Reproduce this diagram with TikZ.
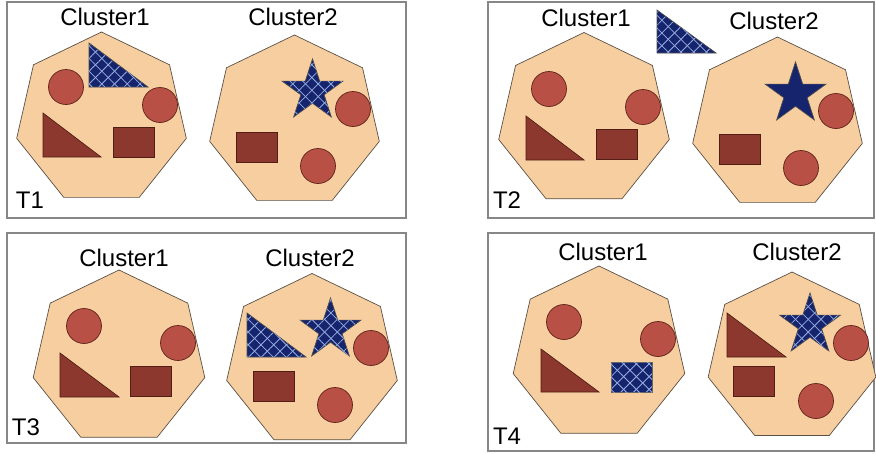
\documentclass[tikz,border=0pt]{standalone}
\usepackage{fontspec}
\setmainfont{Liberation Sans}
\usetikzlibrary{shapes.geometric,patterns.meta}
\definecolor{peach}{RGB}{246,206,160}
\definecolor{heptline}{RGB}{90,80,70}
\definecolor{redfill}{RGB}{184,80,70}
\definecolor{redline}{RGB}{95,35,25}
\definecolor{brownfill}{RGB}{140,56,46}
\definecolor{brownline}{RGB}{80,30,20}
\definecolor{navy}{RGB}{22,36,110}
\definecolor{hatchc}{RGB}{150,175,225}
\definecolor{framec}{RGB}{135,135,135}
\tikzset{
  frame/.style={draw=framec,line width=1.2pt},
  hept/.style={regular polygon,regular polygon sides=7,minimum size=#1,inner sep=0pt,draw=heptline,fill=peach,line width=0.7pt},
  title/.style={font=\fontsize{24}{28}\selectfont,inner sep=0pt},
  ball/.style={circle,minimum size=35pt,inner sep=0pt,draw=redline,fill=redfill,line width=0.7pt},
  brownshape/.style={draw=brownline,fill=brownfill,line width=0.7pt},
  box/.style={rectangle,inner sep=0pt,draw=brownline,fill=brownfill,line width=0.7pt,minimum width=41pt,minimum height=30pt},
  starshape/.style={star,star points=5,star point ratio=2.618,minimum size=64pt,inner sep=0pt,draw=black!70,line width=0.7pt},
  solidnavy/.style={fill=navy},
  hatched/.style={preaction={fill=navy},
    pattern={Lines[angle=45,distance=9pt,line width=0.8pt]},pattern color=hatchc,
    postaction={pattern={Lines[angle=-45,distance=9pt,line width=0.8pt]},pattern color=hatchc}},
}
\begin{document}
\begin{tikzpicture}[x=1pt,y=-1pt]
\useasboundingbox (0,0) rectangle (876,453);
% frames
\draw[frame] (7,2) rectangle (406,218);
\draw[frame] (488,2) rectangle (874,218);
\draw[frame] (7,233) rectangle (406,443);
\draw[frame] (488,233) rectangle (874,451);

% ---------- T1 ----------
\node[hept=174pt] (t1h1) at (101.5,119) {};
\node[hept=174pt] (t1h2) at (294.5,122) {};
\node[title] (t1c1) at (105,17) {Cluster1};
\node[title] (t1c2) at (293,17) {Cluster2};
\node[title] (t1l) at (30,200) {T1};
\node[ball] (t1b1) at (66,87) {};
\path[hatched,draw=black!70,line width=0.7pt] (89,43) -- (89,87) -- (148,87) -- cycle;
\node[ball] (t1b2) at (160,105) {};
\draw[brownshape] (43,113) -- (43,157) -- (101,157) -- cycle;
\node[box] (t1r1) at (133.5,142) {};
\node[starshape,hatched] (t1s) at (312.5,91) {};
\node[ball] (t1b3) at (353,109) {};
\node[box] (t1r2) at (256.5,147.5) {};
\node[ball] (t1b4) at (318,166) {};

% ---------- T2 ----------
\node[hept=175pt] (t2h1) at (584,120) {};
\node[hept=174pt] (t2h2) at (777.5,124) {};
\node[title] (t2c1) at (586,18) {Cluster1};
\node[title] (t2c2) at (774,21) {Cluster2};
\node[title] (t2l) at (507,200) {T2};
\path[hatched,draw=black!70,line width=0.7pt] (657,10) -- (657,53) -- (716,53) -- cycle;
\node[ball] (t2b1) at (549,89) {};
\node[ball] (t2b2) at (643,107) {};
\draw[brownshape] (526,116) -- (526,160) -- (584,160) -- cycle;
\node[box] (t2r1) at (616.5,144.5) {};
\node[starshape,solidnavy] (t2s) at (795.5,94) {};
\node[ball] (t2b3) at (836,111) {};
\node[box] (t2r2) at (740,149) {};
\node[ball] (t2b4) at (801,168) {};

% ---------- T3 ----------
\node[hept=176pt] (t3h1) at (119,358) {};
\node[hept=175pt] (t3h2) at (312,361) {};
\node[title] (t3c1) at (124,258) {Cluster1};
\node[title] (t3c2) at (310,258) {Cluster2};
\node[title] (t3l) at (26,427) {T3};
\node[ball] (t3b1) at (84,326) {};
\node[ball] (t3b2) at (178,343) {};
\draw[brownshape] (60,353) -- (60,397) -- (119,397) -- cycle;
\node[box] (t3r1) at (151,381.5) {};
\path[hatched,draw=black!70,line width=0.7pt] (247,313) -- (247,357) -- (306,357) -- cycle;
\node[starshape,hatched] (t3s) at (330.5,330) {};
\node[ball] (t3b3) at (371,348) {};
\node[box] (t3r2) at (274,386) {};
\node[ball] (t3b4) at (335,405) {};

% ---------- T4 ----------
\node[hept=176pt] (t4h1) at (599,354) {};
\node[hept=172pt] (t4h2) at (792,358) {};
\node[title] (t4c1) at (603,252) {Cluster1};
\node[title] (t4c2) at (797,252) {Cluster2};
\node[title] (t4l) at (507,436) {T4};
\node[ball] (t4b1) at (564,322) {};
\node[ball] (t4b2) at (658,339) {};
\draw[brownshape] (541,349) -- (541,392) -- (599,392) -- cycle;
\node[box,hatched,draw=black!60] (t4r1) at (631.5,377) {};
\draw[brownshape] (727,313) -- (727,357) -- (786,357) -- cycle;
\node[starshape,hatched] (t4s) at (810,325) {};
\node[ball] (t4b3) at (851,343) {};
\node[box] (t4r2) at (754,381.5) {};
\node[ball] (t4b4) at (816,401) {};
\end{tikzpicture}
\end{document}
